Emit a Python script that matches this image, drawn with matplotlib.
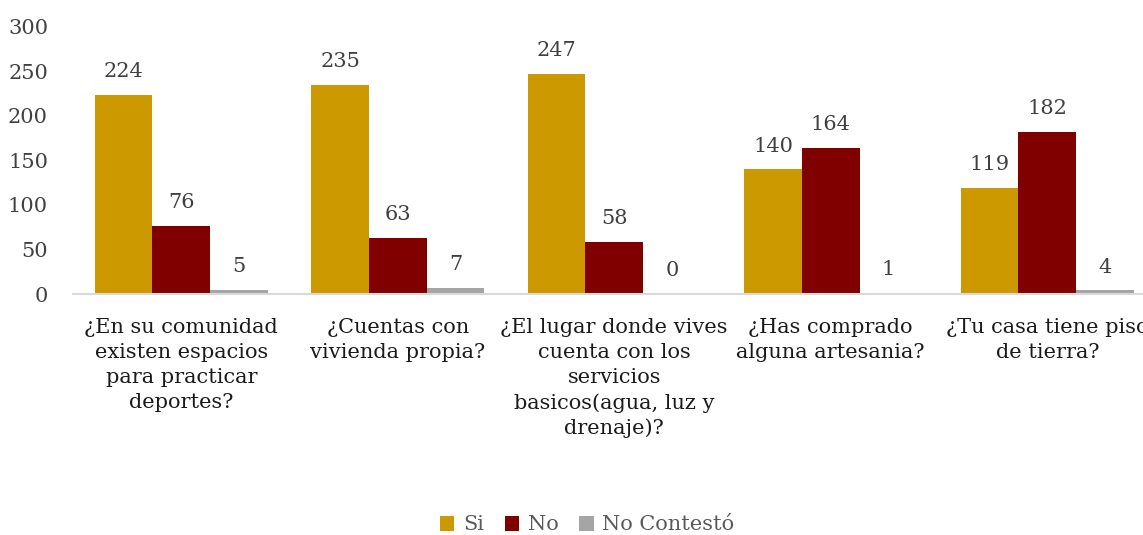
import matplotlib.pyplot as plt
import numpy as np

# Survey answers per question
categories = [
    "¿En su comunidad\nexisten espacios\npara practicar\ndeportes?",
    "¿Cuentas con\nvivienda propia?",
    "¿El lugar donde vives\ncuenta con los\nservicios\nbasicos(agua, luz y\ndrenaje)?",
    "¿Has comprado\nalguna artesania?",
    "¿Tu casa tiene piso\nde tierra?",
]
series_names = ["Si", "No", "No Contestó"]
si = [224, 235, 247, 140, 119]
no = [76, 63, 58, 164, 182]
no_contesto = [5, 7, 0, 1, 4]
colors = ["#CC9900", "#800000", "#A5A5A5"]

plt.rcParams['font.family'] = ['DejaVu Serif']
FS = 15

fig = plt.figure(figsize=(11.43, 5.35), dpi=100)
# axes run slightly past the right edge of the figure
ax = fig.add_axes([73 / 1143, 241 / 535, 1082.5 / 1143, 267 / 535])

x = np.arange(len(categories))
width = 0.8 / 3
bars = []
for i, (vals, color) in enumerate(zip([si, no, no_contesto], colors)):
    b = ax.bar(x + (i - 1) * width, vals, width, color=color, label=series_names[i])
    bars.append(b)
    for xi, v in zip(x + (i - 1) * width, vals):
        ax.annotate(str(v), (xi, v), xytext=(0, 10), textcoords="offset points",
                    ha="center", va="bottom", fontsize=FS, color="#404040")

ax.set_xlim(-0.5, len(categories) - 0.5)
ax.set_ylim(0, 300)
ax.set_yticks(range(0, 301, 50))
ax.set_xticks(x)
ax.set_xticklabels(categories, fontsize=FS, color="#1a1a1a", linespacing=1.4)
ax.tick_params(axis="y", length=0, pad=18, labelsize=FS, labelcolor="#404040")
ax.tick_params(axis="x", length=0, pad=17)
for s in ["top", "right", "left"]:
    ax.spines[s].set_visible(False)
ax.spines["bottom"].set_color("#D9D9D9")
ax.spines["bottom"].set_linewidth(1.5)

fig.legend(handles=bars, labels=series_names, loc="center", bbox_to_anchor=(587 / 1143, 1 - 525 / 535),
           ncol=3, frameon=False, fontsize=FS, handlelength=0.7, handleheight=0.7,
           handletextpad=0.4, columnspacing=1.0, labelcolor="#595959")

fig.savefig("out.png", dpi=100)
